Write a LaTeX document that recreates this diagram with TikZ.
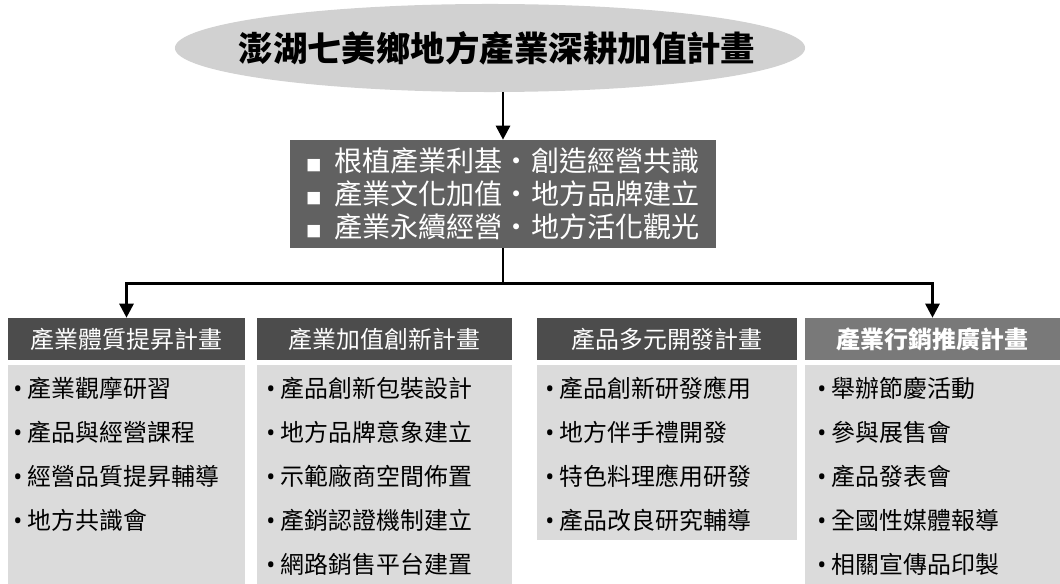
\documentclass[tikz,border=0pt]{standalone}
\usepackage{fontspec}
\setmainfont{Noto Sans CJK TC}
\newfontfamily\dotfont{Noto Sans}
\usetikzlibrary{shapes.geometric,arrows.meta}

\definecolor{cloudgray}{gray}{0.82}
\definecolor{goalgray}{gray}{0.38}
\definecolor{headgray}{gray}{0.30}
\definecolor{bodygray}{gray}{0.86}

\newcommand{\itemdot}{{\dotfont •}\hspace{4pt}}
\newcommand{\goalmark}{{\fontsize{11}{11}\selectfont ■}\ \ }

\tikzset{
	link/.style={line width=2pt},
	feed/.style={link, -{Triangle[length=10pt,width=10pt]}},
	head/.style={fill=headgray, text=white, inner sep=0, minimum height=1.05cm, font=\fontsize{17}{17}\selectfont},
	body/.style={fill=bodygray, inner sep=0, anchor=north west},
	items/.style={inner sep=0, anchor=north west, align=left, font=\fontsize{17}{31.3}\selectfont},
}

\begin{document}
\begin{tikzpicture}[x=0.025cm, y=-0.025cm]
		\useasboundingbox (0,0) rectangle (1060,584);

		\node[ellipse, fill=cloudgray, inner sep=0, minimum width=15.75cm, minimum height=2.2cm] (title) at (490,48) {};
		\node[font=\fontsize{24.5}{24.5}\selectfont\bfseries] (titletext) at (497,48) {澎湖七美鄉地方產業深耕加值計畫};

		\node[fill=goalgray, text=white, inner sep=0, minimum width=10.65cm, minimum height=2.7cm, align=left, font=\fontsize{20}{23.5}\selectfont] (goal) at (503,194)
			{\goalmark 根植產業利基・創造經營共識\\
			 \goalmark 產業文化加值・地方品牌建立\\
			 \goalmark 產業永續經營・地方活化觀光};

		\node[head, minimum width=5.925cm] (h1) at (126.5,339) {產業體質提昇計畫};
		\node[head, minimum width=6.375cm] (h2) at (384.5,339) {產業加值創新計畫};
		\node[head, minimum width=6.5cm] (h3) at (667,339) {產品多元開發計畫};
		\node[head, minimum width=6.375cm, fill=headgray!75, font=\fontsize{17}{17}\selectfont\bfseries] (h4) at (932.5,339) {產業行銷推廣計畫};

		\node[body, minimum width=5.925cm, minimum height=5.475cm] (b1) at (8,365) {};
		\node[body, minimum width=6.375cm, minimum height=5.475cm] (b2) at (257,365) {};
		\node[body, minimum width=6.5cm, minimum height=4.375cm] (b3) at (537,365) {};
		\node[body, minimum width=6.375cm, minimum height=5.475cm] (b4) at (805,365) {};

		\node[items] (t1) at (13,377) {\itemdot 產業觀摩研習\\\itemdot 產品與經營課程\\\itemdot 經營品質提昇輔導\\\itemdot 地方共識會};
		\node[items] (t2) at (266,377) {\itemdot 產品創新包裝設計\\\itemdot 地方品牌意象建立\\\itemdot 示範廠商空間佈置\\\itemdot 產銷認證機制建立\\\itemdot 網路銷售平台建置};
		\node[items] (t3) at (545,377) {\itemdot 產品創新研發應用\\\itemdot 地方伴手禮開發\\\itemdot 特色料理應用研發\\\itemdot 產品改良研究輔導};
		\node[items] (t4) at (817,377) {\itemdot 舉辦節慶活動\\\itemdot 參與展售會\\\itemdot 產品發表會\\\itemdot 全國性媒體報導\\\itemdot 相關宣傳品印製};

		\draw[feed] (title.south -| goal.north) -- (goal.north);
		\draw[link] (goal.south) -- ++(0,35) coordinate (split);
		\draw[feed] (split) -| (h1.north);
		\draw[feed] (split) -| (h4.north);
	\end{tikzpicture}
\end{document}
